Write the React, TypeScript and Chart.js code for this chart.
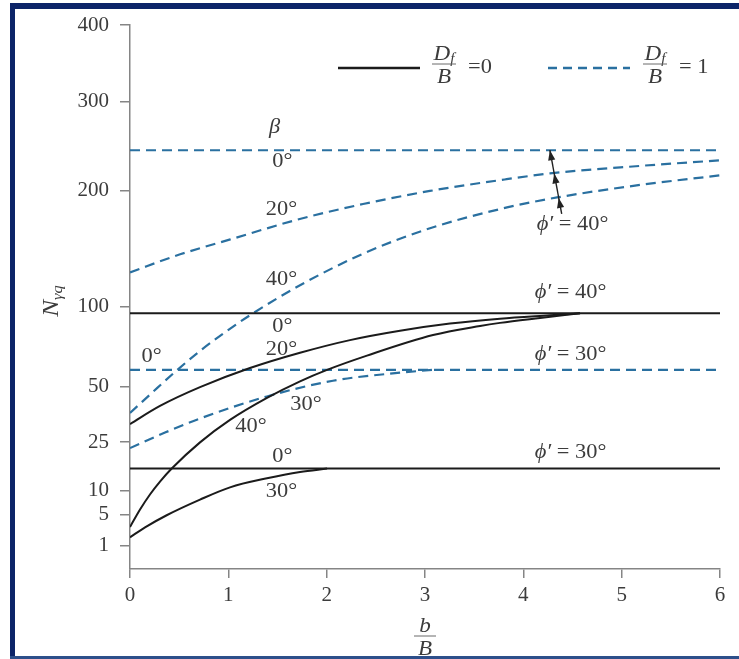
import React, { useEffect, useRef } from 'react';
import { Chart, registerables, LinearScale } from 'chart.js';

Chart.register(...registerables);

// ---------- data ----------
const B_TICKS = [0, 1, 2, 3, 4, 5, 6];
const N_TICKS = [1, 5, 10, 25, 50, 100, 200, 300, 400];

// Df/B = 0 (solid)
const S40_B0_X = [0, 6];
const S40_B0_N = [95, 95];
const S40_B20_X = [0, 0.305, 0.712, 1.22, 1.729, 2.237, 2.746, 3.254, 3.763, 4.271, 4.577];
const S40_B20_N = [32.2, 40.3, 49.6, 60.0, 69.0, 76.9, 83.0, 87.8, 91.2, 93.6, 95];
const S40_B40_X = [0, 0.102, 0.203, 0.305, 0.427, 0.712, 1.017, 1.393, 1.729, 2.004, 2.41, 3.082, 3.56, 3.763, 4.17, 4.577];
const S40_B40_N = [3.04, 5.91, 9.07, 12.3, 16.1, 24.9, 34.0, 44.2, 52.7, 59.0, 67.3, 80.2, 86.2, 88.3, 91.7, 95];
const S30_B0_X = [0, 6];
const S30_B0_N = [16, 16];
const S30_B30_X = [0, 0.153, 0.373, 0.712, 1.017, 1.393, 1.729, 2.004];
const S30_B30_N = [1.78, 2.99, 4.87, 7.92, 10.8, 13.2, 15.0, 16];

// Df/B = 1 (dashed)
const D40_B0_X = [0, 6];
const D40_B0_N = [243, 243];
const D40_B20_X = [0, 0.51, 1.02, 1.7, 2.37, 3.05, 3.83, 4.27, 5.19, 6.0];
const D40_B20_N = [126, 141, 154, 172, 187, 200, 212, 218, 226, 232];
const D40_B40_X = [0, 0.203, 0.478, 0.712, 0.966, 1.22, 1.729, 2.37, 3.051, 3.834, 4.343, 5.187, 6.0];
const D40_B40_N = [37.1, 45.8, 58.8, 70.1, 82.0, 93.6, 115.8, 141.5, 164.1, 183.7, 193.5, 206.1, 216.0];
const D30_B0_X = [0, 6];
const D30_B0_N = [59, 59];
const D30_B30_X = [0, 0.356, 0.712, 1.393, 2.064, 2.746, 3.08];
const D30_B30_N = [22.8, 28.7, 34.6, 44.9, 53.0, 57.4, 59];

// curve labels (data coordinates)
const CURVE_LABELS = [
  { parts: [{ t: 'β', i: true }], x: 1.47, n: 268 },
  { parts: [{ t: '0°' }], x: 1.55, n: 230 },
  { parts: [{ t: '20°' }], x: 1.54, n: 181 },
  { parts: [{ t: '40°' }], x: 1.54, n: 120 },
  { parts: [{ t: 'ϕ′', i: true }, { t: ' = 40°' }], x: 4.5, n: 167 },
  { parts: [{ t: 'ϕ′', i: true }, { t: ' = 40°' }], x: 4.48, n: 110 },
  { parts: [{ t: '0°' }], x: 1.55, n: 85.5 },
  { parts: [{ t: '20°' }], x: 1.54, n: 70.7 },
  { parts: [{ t: 'ϕ′', i: true }, { t: ' = 30°' }], x: 4.48, n: 68 },
  { parts: [{ t: '0°' }], x: 0.22, n: 66.5 },
  { parts: [{ t: '30°' }], x: 1.79, n: 40.8 },
  { parts: [{ t: '40°' }], x: 1.23, n: 31.0 },
  { parts: [{ t: 'ϕ′', i: true }, { t: ' = 30°' }], x: 4.48, n: 21.2 },
  { parts: [{ t: '0°' }], x: 1.55, n: 19.7 },
  { parts: [{ t: '30°' }], x: 1.54, n: 9.65 },
];
const ARROW_FROM = { x: 4.39, n: 177.5 };
const ARROW_TO = { x: 4.27, n: 243 };
const ARROW_HEADS = [243, 218, 193];

// ---------- power (sqrt-like) scale ----------
class PowerScale extends LinearScale {
  static id = 'power';
  static defaults = {};
  configure() {
    super.configure();
    const e = (this as any).options.exponent || 0.5;
    const lo = Math.pow(Math.max((this as any).min, 0), e);
    const hi = Math.pow((this as any).max, e);
    (this as any)._pe = e;
    (this as any)._plo = lo;
    (this as any)._prange = hi - lo || 1;
  }
  getPixelForValue(value: any) {
    if (value === null || value === undefined || Number.isNaN(value)) return NaN;
    const s = this as any;
    return this.getPixelForDecimal((Math.pow(Math.max(value, 0), s._pe) - s._plo) / s._prange);
  }
  getValueForPixel(pixel: number) {
    const s = this as any;
    const d = this.getDecimalForPixel(pixel);
    return Math.pow(Math.max(s._plo + d * s._prange, 0), 1 / s._pe);
  }
}
Chart.register(PowerScale as any);

const SERIF = '"Liberation Serif", "Times New Roman", "DejaVu Serif", serif';
const TEXT = '#3c3c3c';
const AXIS = '#858585';
const SOLID = '#1b1b1b';
const DASH = '#2a70a0';

const pts = (xs: number[], ns: number[]) => xs.map((x, i) => ({ x, y: ns[i] }));

function fontFor(p: any, size: number) {
  return `${p.i ? 'italic ' : ''}${size}px ${SERIF}`;
}

function drawParts(ctx: CanvasRenderingContext2D, parts: any[], cx: number, cy: number, size: number, stretch = 1.12, align = 'center') {
  const widths = parts.map((p) => {
    ctx.font = fontFor(p, p.size || size);
    return ctx.measureText(p.t).width;
  });
  const total = widths.reduce((a, b) => a + b, 0);
  ctx.save();
  ctx.translate(cx, cy);
  ctx.scale(stretch, 1);
  ctx.textBaseline = 'middle';
  ctx.textAlign = 'left';
  ctx.fillStyle = TEXT;
  let x = align === 'center' ? -total / 2 : 0;
  parts.forEach((p, i) => {
    ctx.font = fontFor(p, p.size || size);
    ctx.fillText(p.t, x, p.dy || 0);
    x += widths[i];
  });
  ctx.restore();
}

function drawFraction(ctx: CanvasRenderingContext2D, cx: number, lineY: number, top: any[], bottom: string, halfW: number) {
  drawParts(ctx, top, cx, lineY - 10, 21, 1.1);
  ctx.save();
  ctx.strokeStyle = '#6a6a6a';
  ctx.lineWidth = 1;
  ctx.beginPath();
  ctx.moveTo(cx - halfW, lineY);
  ctx.lineTo(cx + halfW, lineY);
  ctx.stroke();
  ctx.restore();
  drawParts(ctx, [{ t: bottom, i: true }], cx, lineY + 13, 21, 1.1);
}

const annotPlugin = {
  id: 'annot',
  afterDraw(chart: any) {
    const ctx: CanvasRenderingContext2D = chart.ctx;
    const xs = chart.scales.x;
    const ys = chart.scales.y;

    CURVE_LABELS.forEach((l) => {
      drawParts(ctx, l.parts, xs.getPixelForValue(l.x), ys.getPixelForValue(l.n), 20, 1.12);
    });

    const x0 = xs.getPixelForValue(ARROW_FROM.x);
    const y0 = ys.getPixelForValue(ARROW_FROM.n);
    const x1 = xs.getPixelForValue(ARROW_TO.x);
    const y1 = ys.getPixelForValue(ARROW_TO.n);
    ctx.save();
    ctx.strokeStyle = '#222';
    ctx.fillStyle = '#222';
    ctx.lineWidth = 1.4;
    ctx.beginPath();
    ctx.moveTo(x0, y0);
    ctx.lineTo(x1, y1);
    ctx.stroke();
    const ang = Math.atan2(y1 - y0, x1 - x0);
    ARROW_HEADS.forEach((n) => {
      const hy = ys.getPixelForValue(n);
      const t = (hy - y0) / (y1 - y0);
      const hx = x0 + t * (x1 - x0);
      const L = 10, W = 3.6;
      ctx.beginPath();
      ctx.moveTo(hx, hy);
      ctx.lineTo(hx - L * Math.cos(ang) + W * Math.sin(ang), hy - L * Math.sin(ang) - W * Math.cos(ang));
      ctx.lineTo(hx - L * Math.cos(ang) - W * Math.sin(ang), hy - L * Math.sin(ang) + W * Math.cos(ang));
      ctx.closePath();
      ctx.fill();
    });
    ctx.restore();

    // legend
    ctx.save();
    ctx.lineWidth = 2.5;
    ctx.strokeStyle = SOLID;
    ctx.beginPath();
    ctx.moveTo(338, 68);
    ctx.lineTo(420, 68);
    ctx.stroke();
    ctx.strokeStyle = DASH;
    ctx.setLineDash([9, 6]);
    ctx.beginPath();
    ctx.moveTo(548, 68);
    ctx.lineTo(630, 68);
    ctx.stroke();
    ctx.restore();
    const dfTop = [{ t: 'D', i: true }, { t: 'f', i: true, size: 14, dy: 5 }];
    drawFraction(ctx, 444, 64, dfTop, 'B', 12);
    drawParts(ctx, [{ t: '=0' }], 468, 68, 20, 1.12, 'left');
    drawFraction(ctx, 655, 64, dfTop, 'B', 12);
    drawParts(ctx, [{ t: '= 1' }], 679, 68, 20, 1.12, 'left');

    // x title b/B
    drawFraction(ctx, 425, 636, [{ t: 'b', i: true }], 'B', 11);

    // y title N_γq (rotated)
    ctx.save();
    ctx.translate(60, 301);
    ctx.rotate(-Math.PI / 2);
    drawParts(ctx, [{ t: 'N', i: true, size: 23 }, { t: 'γq', i: true, size: 15, dy: 6 }], 0, -8, 23, 1.1);
    ctx.restore();
  },
};

export default function App() {
  const ref = useRef<HTMLCanvasElement | null>(null);

  useEffect(() => {
    if (!ref.current) return;
    const solid = (xs: number[], ns: number[]) => ({
      data: pts(xs, ns),
      borderColor: SOLID,
      borderWidth: 2,
      pointRadius: 0,
      fill: false,
      cubicInterpolationMode: 'monotone',
    });
    const dashed = (xs: number[], ns: number[]) => ({
      data: pts(xs, ns),
      borderColor: DASH,
      borderWidth: 2.2,
      borderDash: [10, 6],
      pointRadius: 0,
      fill: false,
      cubicInterpolationMode: 'monotone',
    });
    const chart = new Chart(ref.current, {
      type: 'line',
      data: {
        datasets: [
          solid(S40_B0_X, S40_B0_N),
          solid(S40_B20_X, S40_B20_N),
          solid(S40_B40_X, S40_B40_N),
          solid(S30_B0_X, S30_B0_N),
          solid(S30_B30_X, S30_B30_N),
          dashed(D40_B0_X, D40_B0_N),
          dashed(D40_B20_X, D40_B20_N),
          dashed(D40_B40_X, D40_B40_N),
          dashed(D30_B0_X, D30_B0_N),
          dashed(D30_B30_X, D30_B30_N),
        ] as any,
      },
      options: {
        animation: false,
        responsive: false,
        maintainAspectRatio: false,
        layout: { padding: { top: 25, right: 19, left: 0, bottom: 0 } },
        plugins: { legend: { display: false }, tooltip: { enabled: false } },
        scales: {
          x: {
            type: 'linear',
            min: 0,
            max: 6,
            afterBuildTicks: (s: any) => {
              s.ticks = B_TICKS.map((v) => ({ value: v }));
            },
            afterFit: (s: any) => {
              s.height = 90;
            },
            ticks: {
              autoSkip: false,
              maxRotation: 0,
              padding: 5,
              color: TEXT,
              font: { family: SERIF, size: 21 },
              callback: (v: any) => String(v),
            },
            grid: { display: true, drawOnChartArea: false, drawTicks: true, tickLength: 9, color: AXIS, lineWidth: 1.5 },
            border: { display: true, color: AXIS, width: 1.5 },
          },
          y: {
            type: 'power',
            exponent: 0.525,
            min: 0,
            max: 400,
            afterBuildTicks: (s: any) => {
              s.ticks = N_TICKS.map((v) => ({ value: v }));
            },
            afterFit: (s: any) => {
              s.width = 130;
            },
            ticks: {
              autoSkip: false,
              padding: 11,
              color: TEXT,
              font: { family: SERIF, size: 21 },
              callback: (v: any) => String(v),
            },
            grid: { display: true, drawOnChartArea: false, drawTicks: true, tickLength: 10, color: AXIS, lineWidth: 1.5 },
            border: { display: true, color: AXIS, width: 1.5 },
          } as any,
        },
      },
      plugins: [annotPlugin],
    });
    return () => chart.destroy();
  }, []);

  return (
    <div style={{ position: 'absolute', left: 0, top: 0, width: 739, height: 659, background: '#fff', overflow: 'hidden' }}>
      <div style={{ position: 'absolute', left: 10, top: 3, width: 729, height: 6, background: '#0c2468' }} />
      <div style={{ position: 'absolute', left: 10, top: 3, width: 5, height: 656, background: '#0c2468' }} />
      <div style={{ position: 'absolute', left: 10, top: 656, width: 729, height: 3, background: '#2d4f8a' }} />
      <canvas ref={ref} width={739} height={659} style={{ position: 'absolute', left: 0, top: 0, width: 739, height: 659 }} />
    </div>
  );
}
